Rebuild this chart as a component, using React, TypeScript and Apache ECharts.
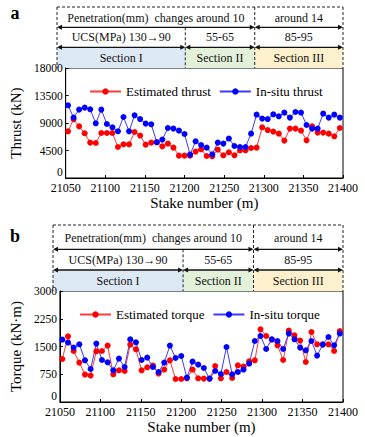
import React, { useEffect, useRef } from "react";
import * as echarts from "echarts";

const stakes = [21053, 21060, 21067, 21074, 21081, 21088, 21095, 21102, 21109, 21116, 21123, 21130, 21137, 21144, 21151, 21158, 21165, 21172, 21179, 21186, 21193, 21200, 21207, 21214, 21221, 21228, 21235, 21242, 21249, 21256, 21263, 21270, 21277, 21284, 21291, 21298, 21305, 21312, 21319, 21326, 21333, 21340, 21347, 21354, 21361, 21368, 21375, 21382, 21389, 21396];

const estThrust = [7640, 9600, 8460, 7310, 5790, 5730, 7360, 7360, 7360, 5070, 5510, 5510, 7530, 6940, 5460, 5790, 5890, 5190, 5630, 4970, 3660, 3660, 3660, 4320, 4690, 3600, 3550, 4640, 3710, 4200, 3710, 4530, 4530, 4910, 4970, 8290, 7850, 7590, 7260, 6120, 8080, 8080, 7750, 6170, 8460, 7430, 7430, 7260, 6820, 8180];
const insituThrust = [11890, 9880, 11190, 11520, 11240, 8950, 11190, 8840, 8290, 7640, 9980, 7640, 10260, 9650, 8900, 8790, 5840, 6280, 8180, 8080, 7750, 7200, 3830, 6000, 5400, 4970, 3880, 5790, 5630, 6450, 5240, 5070, 5070, 7260, 10370, 9720, 9650, 10420, 10090, 10700, 9880, 10800, 10700, 8670, 8080, 8080, 10530, 9880, 10370, 9880];

const estTorque = [1162, 1776, 1378, 1065, 741, 714, 1370, 1378, 1524, 749, 857, 838, 1551, 1424, 857, 938, 984, 768, 876, 1127, 622, 622, 641, 876, 641, 632, 632, 973, 641, 811, 649, 992, 957, 1100, 1127, 1965, 1784, 1686, 1532, 1135, 1930, 1803, 1660, 1081, 1892, 1560, 1560, 1560, 1378, 1919];
const insituTorque = [1686, 1605, 1470, 1560, 1127, 892, 1578, 1135, 1073, 857, 1173, 946, 1695, 1614, 1135, 1200, 946, 811, 1065, 1524, 1189, 1243, 659, 1092, 1011, 919, 632, 838, 757, 1487, 749, 811, 876, 1038, 1649, 1784, 1433, 1695, 1649, 1433, 1849, 1695, 1470, 1397, 1649, 1254, 1551, 1757, 1532, 1849];

const xTicks = [21050, 21400, 50];
const thrustTicks = [0, 18000, 4500];
const torqueTicks = [0, 3000, 750];
const sectionBounds = [21207, 21292];
const row1Texts = ["Penetration(mm)  changes around 10", "around 14"];
const row2Texts = ["UCS(MPa) 130\u219290", "55-65", "85-95"];
const sectionNames = ["Section I", "Section II", "Section III"];
const sectionColors = ["#dde8f5", "#e3f0da", "#fdf1cd"];

const FONT = "Liberation Serif";
const W = 365;
const RIGHT = 22;

function arrow(x1: number, x2: number, y: number): any[] {
  const s = { fill: "#111" };
  return [
    { type: "line", shape: { x1: x1 + 2, y1: y, x2: x2 - 2, y2: y }, style: { stroke: "#111", lineWidth: 1.3 } },
    { type: "polygon", shape: { points: [[x1, y], [x1 + 5, y - 2.5], [x1 + 5, y + 2.5]] }, style: s },
    { type: "polygon", shape: { points: [[x2, y], [x2 - 5, y - 2.5], [x2 - 5, y + 2.5]] }, style: s },
  ];
}

function header(left: number, top: number, r1: number, r2: number, plotTop: number): any[] {
  const width = W - RIGHT - left;
  const px = (v: number) => left + ((v - xTicks[0]) / (xTicks[1] - xTicks[0])) * width;
  const d1 = px(sectionBounds[0]);
  const d2 = px(sectionBounds[1]);
  const right = left + width;
  const dash = { stroke: "#222", lineWidth: 1, lineDash: [3, 2] };
  const els: any[] = [];
  const xs = [left, d1, d2, right];
  for (let i = 0; i < 3; i++) {
    els.push({ type: "rect", shape: { x: xs[i], y: r2, width: xs[i + 1] - xs[i], height: plotTop - r2 }, style: { fill: sectionColors[i] } });
  }
  els.push({ type: "line", shape: { x1: left, y1: top, x2: right, y2: top }, style: dash });
  els.push({ type: "line", shape: { x1: left, y1: top, x2: left, y2: plotTop }, style: dash });
  els.push({ type: "line", shape: { x1: right, y1: top, x2: right, y2: plotTop }, style: dash });
  els.push({ type: "line", shape: { x1: d2, y1: top, x2: d2, y2: plotTop }, style: dash });
  els.push({ type: "line", shape: { x1: d1, y1: r1, x2: d1, y2: plotTop }, style: dash });
  els.push(...arrow(left, d2, r1), ...arrow(d2, right, r1));
  els.push(...arrow(left, d1, r2), ...arrow(d1, d2, r2), ...arrow(d2, right, r2));
  const txt = (t: string, x: number, y: number) => ({
    type: "text",
    style: { text: t, x, y, align: "center", verticalAlign: "middle", fontFamily: FONT, fontSize: 12, fill: "#111" },
  });
  els.push(txt(row1Texts[0], (left + d2) / 2, (top + r1) / 2 + 0.5));
  els.push(txt(row1Texts[1], (d2 + right) / 2, (top + r1) / 2 + 0.5));
  const c = [(left + d1) / 2, (d1 + d2) / 2, (d2 + right) / 2];
  for (let i = 0; i < 3; i++) {
    els.push(txt(row2Texts[i], c[i], (r1 + r2) / 2));
    els.push(txt(sectionNames[i], c[i], (r2 + plotTop) / 2 + 0.5));
  }
  return els;
}

export default function App() {
  const ref = useRef<HTMLDivElement>(null);
  useEffect(() => {
    document.body.style.margin = "0";
    const chart = echarts.init(ref.current!, null, { renderer: "svg" });
    const axisCommon = {
      axisLine: { show: true, lineStyle: { color: "#000", width: 1 } },
      axisTick: { show: true, inside: true, length: 3, lineStyle: { color: "#000" } },
      splitLine: { show: false },
    };
    const xAxis = (gi: number) => ({
      ...axisCommon,
      gridIndex: gi,
      type: "value",
      min: xTicks[0],
      max: xTicks[1],
      interval: xTicks[2],
      name: "Stake number (m)",
      nameLocation: "middle",
      nameGap: 17,
      nameTextStyle: { fontFamily: FONT, fontSize: 15, color: "#000" },
      axisLabel: { fontFamily: FONT, fontSize: 12, color: "#000", margin: 4, formatter: (v: number) => String(v) },
    });
    const yAxis = (gi: number, t: number[], name: string, gap: number) => ({
      ...axisCommon,
      gridIndex: gi,
      type: "value",
      min: t[0],
      max: t[1],
      interval: t[2],
      name,
      nameLocation: "middle",
      nameGap: gap,
      nameTextStyle: { fontFamily: FONT, fontSize: 15, color: "#000" },
      axisLabel: { fontFamily: FONT, fontSize: 11.5, color: "#000", margin: 3, verticalAlignMinLabel: "bottom", formatter: (v: number) => String(v) },
    });
    const line = (name: string, data: number[], xi: number, color: string, lcolor: string) => ({
      name,
      type: "line",
      xAxisIndex: xi,
      yAxisIndex: xi,
      data: stakes.map((s, i) => [s, data[i]]),
      symbol: "circle",
      symbolSize: 6,
      showSymbol: true,
      itemStyle: { color },
      lineStyle: { color: lcolor, width: 1 },
    });
    const legend = (data: string[], left: number, top: number) => ({
      data,
      left,
      top,
      itemWidth: 31,
      itemHeight: 8,
      itemGap: 8,
      textStyle: { fontFamily: FONT, fontSize: 13, color: "#000" },
    });
    chart.setOption({
      animation: false,
      backgroundColor: "#fff",
      grid: [
        { left: 57, right: RIGHT, top: 68, height: 110, show: true, borderColor: "#000", borderWidth: 1 },
        { left: 53, right: RIGHT, top: 291, height: 111, show: true, borderColor: "#000", borderWidth: 1 },
      ],
      xAxis: [xAxis(0), xAxis(1)],
      yAxis: [yAxis(0, thrustTicks, "Thrust (kN)", 36), yAxis(1, torqueTicks, "Torque (kN\u00b7m)", 32)],
      legend: [
        legend(["Estimated thrust", "In-situ thrust"], 84, 80),
        legend(["Estimated torque", "In-situ torque"], 74, 303),
      ],
      series: [
        line("Estimated thrust", estThrust, 0, "#ff0000", "#ff3a3a"),
        line("In-situ thrust", insituThrust, 0, "#0000ff", "#3a3aff"),
        line("Estimated torque", estTorque, 1, "#ff0000", "#ff3a3a"),
        line("In-situ torque", insituTorque, 1, "#0000ff", "#3a3aff"),
      ],
      graphic: [
        ...header(57, 7, 27.3, 47.3, 68),
        ...header(53, 225, 249.3, 270, 291),
        { type: "text", style: { text: "a", x: 15, y: 13, align: "center", verticalAlign: "middle", fontFamily: FONT, fontSize: 18, fontWeight: "bold", fill: "#000" } },
        { type: "text", style: { text: "b", x: 15, y: 236, align: "center", verticalAlign: "middle", fontFamily: FONT, fontSize: 18, fontWeight: "bold", fill: "#000" } },
      ],
    });
    return () => chart.dispose();
  }, []);
  return <div ref={ref} style={{ width: 365, height: 437 }} />;
}
